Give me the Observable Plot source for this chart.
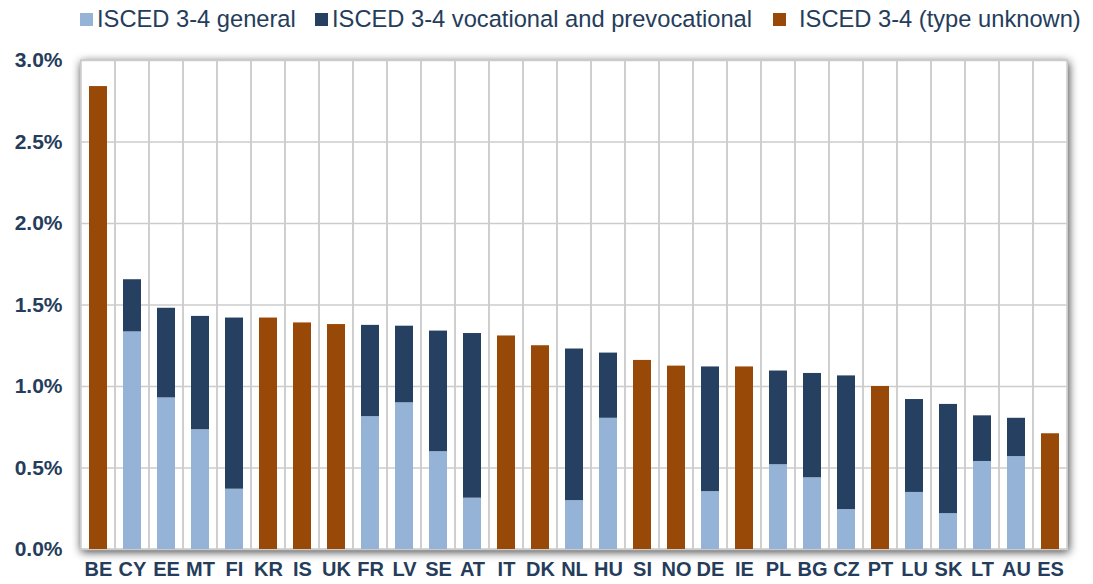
<!DOCTYPE html>
<html>
<head>
<meta charset="utf-8">
<script src="https://cdn.jsdelivr.net/npm/d3@7"></script>
<script src="https://cdn.jsdelivr.net/npm/@observablehq/plot@0.6"></script>
<style>
  html, body { margin: 0; padding: 0; background: #fff; }
  body { width: 1093px; height: 584px; overflow: hidden; font-family: "Liberation Sans", Arial, sans-serif; }
  #legend { position: relative; height: 40px; width: 1093px; color: #253d5b; font-size: 23.7px; }
  #legend .sw { position: absolute; top: 13px; width: 13px; height: 13px; }
  #legend .lb { position: absolute; top: 6px; white-space: nowrap; line-height: 26px; }
  [aria-label="frame"] { filter: drop-shadow(1px 2px 5px rgba(0,0,0,0.75)); }
</style>
</head>
<body>
<div id="legend"></div>
<div id="chart"></div>
<script>
const countries = ["BE","CY","EE","MT","FI","KR","IS","UK","FR","LV","SE","AT","IT","DK","NL","HU","SI","NO","DE","IE","PL","BG","CZ","PT","LU","SK","LT","AU","ES"];
const general    = [0,1.335,0.93,0.735,0.37,0,0,0,0.815,0.90,0.60,0.315,0,0,0.30,0.805,0,0,0.355,0,0.52,0.44,0.245,0,0.35,0.22,0.54,0.57,0];
const vocational = [0,0.32,0.55,0.695,1.05,0,0,0,0.56,0.47,0.74,1.01,0,0,0.93,0.40,0,0,0.765,0,0.575,0.64,0.82,0,0.57,0.67,0.28,0.235,0];
const unknown    = [2.84,0,0,0,0,1.42,1.39,1.38,0,0,0,0,1.31,1.25,0,0,1.16,1.125,0,1.12,0,0,0,1.00,0,0,0,0,0.71];
const seriesNames = ["ISCED 3-4 general","ISCED 3-4 vocational and prevocational","ISCED 3-4 (type unknown)"];
const seriesColors = ["#95b3d7","#254061","#984807"];
const yTicks = [0,0.5,1.0,1.5,2.0,2.5,3.0];

const seriesValues = [general, vocational, unknown];
const table = [];
countries.forEach((c, i) => {
  seriesNames.forEach((s, j) => {
    table.push({country: c, series: s, value: seriesValues[j][i]});
  });
});

// legend
const legendPos = [[80,97],[315,332],[773,799]];
const legend = document.getElementById("legend");
seriesNames.forEach((s, j) => {
  const sw = document.createElement("div");
  sw.className = "sw";
  sw.style.left = legendPos[j][0] + "px";
  sw.style.background = seriesColors[j];
  legend.appendChild(sw);
  const lb = document.createElement("div");
  lb.className = "lb";
  lb.style.left = legendPos[j][1] + "px";
  lb.textContent = s;
  legend.appendChild(lb);
});

const chart = Plot.plot({
  width: 1093,
  height: 544,
  marginTop: 20,
  marginBottom: 35,
  marginLeft: 80,
  marginRight: 26,
  style: {fontFamily: "'Liberation Sans', Arial, sans-serif", fontSize: "21px", fontWeight: "bold", color: "#253d5b", background: "transparent", overflow: "visible"},
  x: {domain: countries, padding: 0, label: null},
  y: {domain: [0, 3], label: null},
  color: {domain: seriesNames, range: seriesColors},
  marks: [
    Plot.frame({fill: "white", stroke: "#c8c8c8"}),
    Plot.barY(countries, {x: d => d, y1: 0, y2: 3, fill: "none", stroke: "#cccccc", strokeWidth: 1.5}),
    Plot.ruleY(yTicks, {stroke: "#cccccc", strokeWidth: 1.5}),
    Plot.barY(table, {x: "country", y: "value", fill: "series", order: seriesNames, insetLeft: 8, insetRight: 8}),
    Plot.axisY({ticks: yTicks, tickFormat: d => d.toFixed(1) + "%", tickSize: 0, tickPadding: 18, fontSize: 21, fontWeight: "bold"}),
    Plot.axisX({tickSize: 0, tickPadding: 12, fontSize: 20, fontWeight: "bold"})
  ]
});
document.getElementById("chart").appendChild(chart);
</script>
</body>
</html>
